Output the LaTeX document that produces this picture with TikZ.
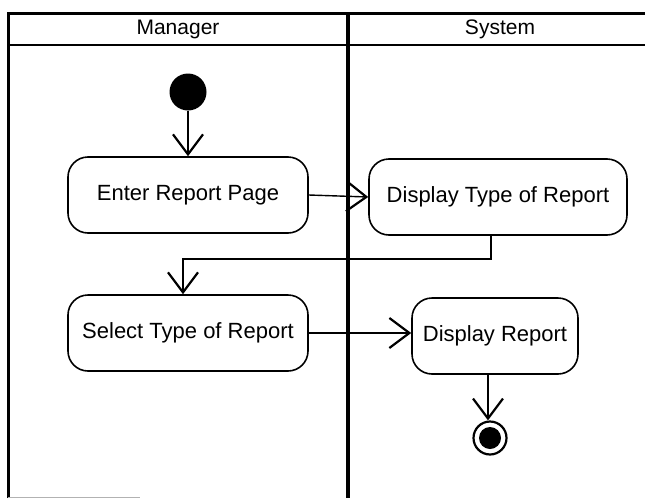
\documentclass[tikz,border=0pt]{standalone}
\usepackage{fontspec}
\setmainfont{Liberation Sans}
\usetikzlibrary{arrows.meta}
\begin{document}
\begin{tikzpicture}[x=1pt,y=-1pt,
  activity/.style={draw,line width=1.6pt,rounded corners=20pt,minimum height=76pt,font=\fontsize{22}{24}\selectfont},
  flow/.style={-{Straight Barb[length=20pt,width=30pt,line width=2.2pt]},line width=1.4pt},
  lane/.style={line width=3pt}]
\useasboundingbox (0,0) rectangle (645,498);
% swimlanes
\draw[lane] (8,498) -- (8,13) -- (645,13);
\draw[line width=2pt] (8,45) -- (645,45);
\draw[line width=4pt] (348,13) -- (348,498);
\draw[gray!60,line width=1pt] (8,497) -- (140,497);
\path (178,29) node[font=\fontsize{21}{23}\selectfont](mgr){Manager}
      (500,29) node[font=\fontsize{21}{23}\selectfont](sys){System};
% activities
\path (188,92) node[circle,fill=black,minimum size=37pt,inner sep=0pt](start){}
      (188,195) node[activity,minimum width=240pt](enter){Enter Report Page}
      (498,197) node[activity,minimum width=258pt](disptype){Display Type of Report}
      (188,333) node[activity,minimum width=240pt](select){Select Type of Report}
      (495,336) node[activity,minimum width=166pt](disprep){Display Report}
      (490,438) node[circle,draw,line width=2.2pt,minimum size=33pt,inner sep=0pt,
        path picture={\fill (path picture bounding box.center) circle (11pt);}](final){};
\draw[flow] (start.south) -- (enter.north);
\draw[flow] (enter.east) -- (disptype.west);
\draw[flow] ([xshift=-7pt]disptype.south) -- ++(0,23) -| ([xshift=-5pt]select.north);
\draw[flow] (select.east) -- (select.east -| disprep.west);
\draw[flow] ([xshift=-7pt]disprep.south) -- ([xshift=-2pt]final.north);
\end{tikzpicture}
\end{document}
